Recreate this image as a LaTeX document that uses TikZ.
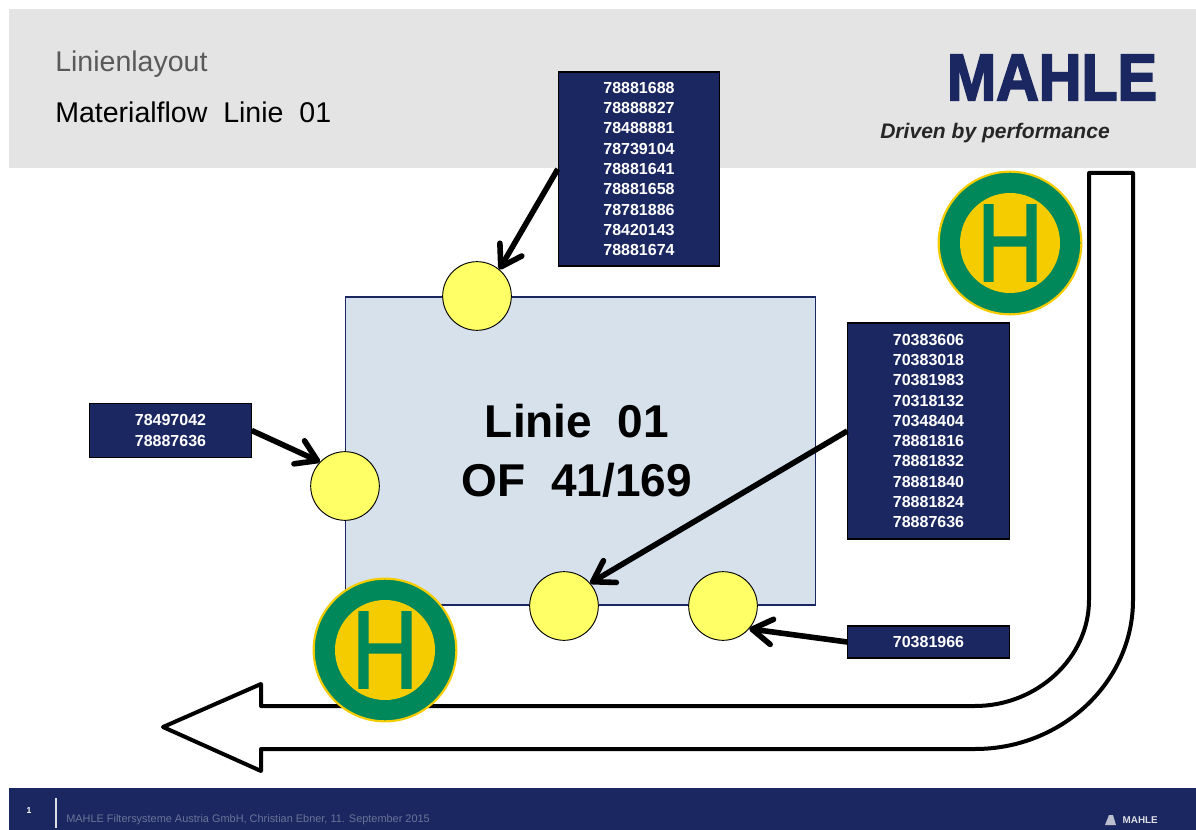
\documentclass[tikz,border=0pt]{standalone}
\usepackage{fontspec}
\setmainfont[WordSpace=2]{Liberation Sans}
\newfontfamily\plainsans{Liberation Sans}
\newfontfamily\signfont[FakeBold=1.6]{Liberation Sans}
\newfontfamily\logofont[FakeBold=3]{Liberation Sans Bold}
\usetikzlibrary{arrows.meta}
\definecolor{navy}{HTML}{1B2760}
\definecolor{band}{HTML}{E4E4E4}
\definecolor{signgreen}{HTML}{00875A}
\definecolor{signyellow}{HTML}{F5CC00}
\definecolor{linebox}{HTML}{D6E1EC}
\definecolor{pin}{HTML}{FFFF66}
\definecolor{footgray}{HTML}{6A7499}
\newcommand{\fs}[2]{\fontsize{#1pt}{#2pt}\selectfont}
\tikzset{
  numbox/.style={draw=black,line width=0.8pt,fill=navy,text=white,inner sep=0pt,
    minimum width=121pt,align=center,font=\bfseries\fs{12}{15.2}},
  pinpoint/.style={circle,draw=black,line width=0.7pt,fill=pin,minimum size=51.5pt,inner sep=0pt},
  flow/.style={line width=4.2pt,black,-{Straight Barb[length=15pt,width=19pt,line width=4.2pt,round]}},
  signouter/.style={circle,fill=signgreen,draw=signyellow,line width=1.6pt,minimum size=107pt,inner sep=0pt},
  signinner/.style={circle,fill=signyellow,minimum size=75pt,inner sep=0pt},
  signletter/.style={text=signgreen,inner sep=0pt},
  bigarrow/.style={draw=black,fill=white,line width=3pt,line join=round},
}
\begin{document}
\begin{tikzpicture}[x=0.75pt,y=-0.75pt]
\useasboundingbox (0,0) rectangle (1196,830);
\fill[white] (0,0) rectangle (1196,830);
\fill[band] (9,9) rectangle (1196,168);
\fill[navy] (9,788) rectangle (1196,830);

\node[anchor=west,inner sep=0pt,text=black!65,font=\fs{21.4}{24}] (title) at (55,64) {Linienlayout};
\node[anchor=west,inner sep=0pt,text=black,font=\fs{21.4}{24}] (subtitle) at (55,112) {Materialflow Linie 01};
\node[inner sep=0pt,text=navy] (logo) at (1052,77.5) {\resizebox{157.5pt}{34pt}{\logofont MAHLE}};
\node[anchor=west,inner sep=0pt,text=black!85,font=\bfseries\itshape\fs{15.8}{18}] (slogan) at (880,133) {\plainsans Driven by performance};

% big flow arrow
\draw[bigarrow] (1089,173) -- (1133,173) -- (1133,600)
  .. controls (1133,682) and (1062,749) .. (975,749)
  -- (261,749) -- (261,771) -- (163,727) -- (261,684) -- (261,706) -- (975,706)
  .. controls (1037,706) and (1089,658) .. (1089,600) -- cycle;

% line block
\node[draw=navy,line width=0.8pt,fill=linebox,minimum width=353pt,minimum height=231pt,inner sep=0pt] (linie) at (580.5,451) {};
\node[inner sep=0pt,font=\bfseries\fs{34.5}{36}] (linie1) at (577,421) {Linie 01};
\node[inner sep=0pt,font=\bfseries\fs{34.5}{36}] (linie2) at (577,480) {OF 41/169};

% stops
\node[signouter] (sign1) at (1010,243) {};
\node[signinner] (sign1i) at (sign1) {};
\node[signletter] (sign1h) at (sign1) {\resizebox{50pt}{57pt}{\signfont H}};

\node[pinpoint] (c1) at (477,296) {};
\node[pinpoint] (c2) at (345,486) {};
\node[pinpoint] (c3) at (564,606) {};
\node[pinpoint] (c4) at (723,606) {};

\node[signouter] (sign2) at (385,650) {};
\node[signinner] (sign2i) at (sign2) {};
\node[signletter] (sign2h) at (sign2) {\resizebox{50pt}{57pt}{\signfont H}};

% part number boxes
\node[numbox,minimum height=145.5pt] (topbox) at (639,169) {78881688\\78888827\\78488881\\78739104\\78881641\\78881658\\78781886\\78420143\\78881674};
\node[numbox,minimum height=162pt] (rightbox) at (928.5,431) {70383606\\70383018\\70381983\\70318132\\70348404\\78881816\\78881832\\78881840\\78881824\\78887636};
\node[numbox,minimum height=40pt] (leftbox) at (170.5,430.5) {78497042\\78887636};
\node[numbox,minimum height=24pt] (botbox) at (928.5,642) {70381966};

\draw[flow] (topbox.west) -- (c1.50);
\draw[flow] (leftbox.east) -- (c2.136);
\draw[flow] (rightbox.west) -- (c3.41);
\draw[flow] (botbox.west) -- (c4.-41);

% footer
\node[inner sep=0pt,text=white,font=\bfseries\fs{6.5}{8}] (pageno) at (29,811) {1};
\coordinate (ruletop) at (56,798);
\coordinate (rulebot) at (56,828);
\draw[white!85!navy,line width=0.8pt] (ruletop) -- (rulebot);
\node[anchor=west,inner sep=0pt,text=footgray,font=\fs{8.2}{9}] (foot) at (66,820) {\plainsans MAHLE Filtersysteme Austria GmbH, Christian Ebner, 11. September 2015};
\node[anchor=east,inner sep=0pt,text=white!85!navy,font=\bfseries\fs{7.4}{8}] (footlogo) at (1158,820) {\plainsans MAHLE};
\fill[white!70!navy] (1105,825) -- (1109,815) -- (1113,815) -- (1116,825) -- cycle;
\end{tikzpicture}
\end{document}
